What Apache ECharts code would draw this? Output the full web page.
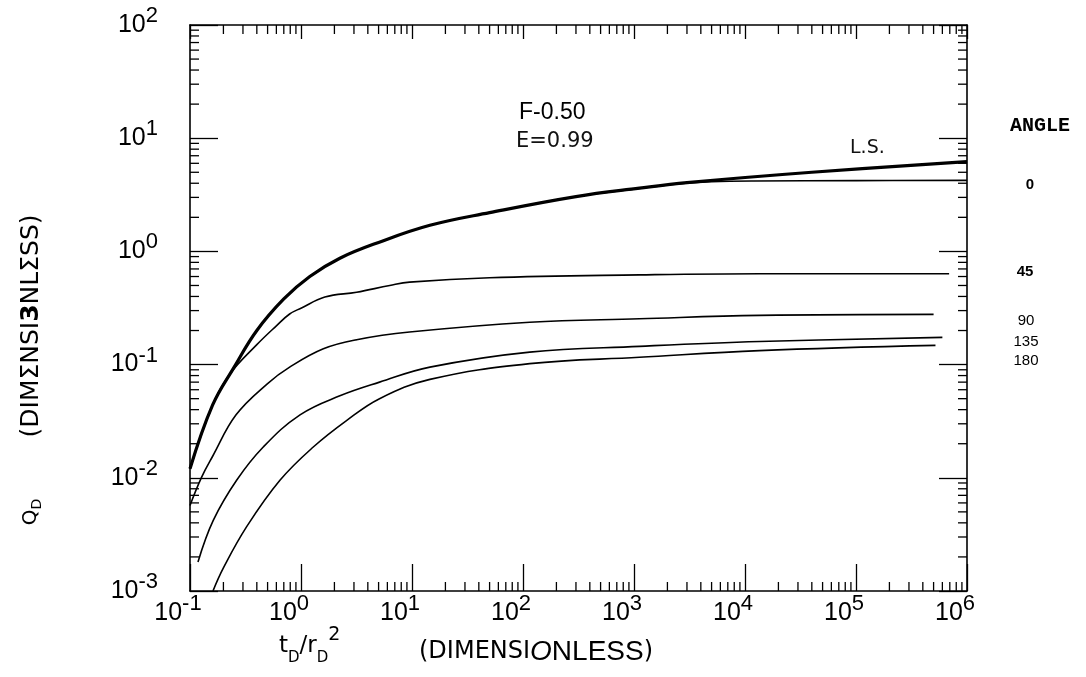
<!DOCTYPE html>
<html>
<head>
<meta charset="utf-8">
<script src="https://cdn.jsdelivr.net/npm/echarts@6/dist/echarts.min.js"></script>
<style>
html,body{margin:0;padding:0;background:#fff;}
#chart{width:1086px;height:677px;}
</style>
</head>
<body>
<div id="chart"></div>
<script>
// ---- data (tD/rD^2 , QD) ----
const lsT   = [0.1, 0.16, 0.25, 0.4, 0.7, 1.2, 2.24, 5, 14.5, 50, 300, 1120, 3000, 40000, 1000000];
const lsQ   = [0.012, 0.044, 0.095, 0.2, 0.38, 0.6, 0.87, 1.2, 1.7, 2.2, 3.05, 3.62, 4.05, 5.0, 6.2];

const a0T   = [0.1, 0.16, 0.25, 0.4, 0.7, 1.2, 2.24, 5, 14.5, 50, 300, 1120, 2500, 5000, 12000, 100000, 1000000];
const a0Q   = [0.012, 0.044, 0.095, 0.2, 0.38, 0.6, 0.87, 1.2, 1.7, 2.2, 3.05, 3.6, 3.95, 4.12, 4.19, 4.22, 4.24];

const a45T  = [0.1, 0.16, 0.23, 0.4, 0.6, 0.79, 1.0, 1.64, 3.17, 6.3, 9.5, 50, 1120, 13500, 690000];
const a45Q  = [0.012, 0.044, 0.083, 0.15, 0.22, 0.28, 0.315, 0.395, 0.436, 0.50, 0.535, 0.585, 0.62, 0.635, 0.635];

const a90T  = [0.1, 0.127, 0.16, 0.26, 0.5, 0.79, 1.59, 3.17, 9.5, 115, 1120, 13500, 500000];
const a90Q  = [0.0057, 0.0101, 0.0155, 0.036, 0.068, 0.095, 0.138, 0.166, 0.194, 0.237, 0.254, 0.272, 0.278];

const a135T = [0.118, 0.162, 0.263, 0.457, 0.98, 2.24, 5.1, 14.5, 115, 1120, 13500, 600000];
const a135Q = [0.0018, 0.0042, 0.0095, 0.0187, 0.036, 0.053, 0.07, 0.095, 0.129, 0.145, 0.16, 0.174];

const a180T = [0.161, 0.2, 0.324, 0.646, 1.29, 2.57, 5.1, 14.5, 115, 1120, 13500, 520000];
const a180Q = [0.001, 0.0016, 0.0037, 0.0095, 0.0187, 0.032, 0.05, 0.074, 0.102, 0.116, 0.133, 0.148];

// tick labels (exponents of 10)
const xTickExp = ['-1', '0', '1', '2', '3', '4', '5', '6'];
const yTickExp = ['-3', '-2', '-1', '0', '1', '2'];
const minorMult = [2, 3, 4, 5, 6, 7, 8, 9];
const xDecades = [0.1, 1, 10, 100, 1000, 10000, 100000];
const yDecades = [0.001, 0.01, 0.1, 1, 10];

const angleLabels = ['0', '45', '90', '135', '180'];

// ---- build ----
const X_MIN = 0.1, X_MAX = 1e6, Y_MIN = 0.001, Y_MAX = 100;
const xMinor = [], yMinor = [];
xDecades.forEach(d => minorMult.forEach(m => xMinor.push([d * m, 1])));
yDecades.forEach(d => minorMult.forEach(m => yMinor.push([1, d * m])));
const pair = (a, b) => a.map((v, i) => [v, b[i]]);

const labelRich = {
  b: {fontFamily: 'Liberation Sans', fontSize: 25, lineHeight: 40, color: '#000', verticalAlign: 'middle'},
  s: {fontFamily: 'Liberation Sans', fontSize: 22, lineHeight: 22, color: '#000', verticalAlign: 'top'}
};
const expOf = v => Math.round(Math.log10(v));

const chart = echarts.init(document.getElementById('chart'));
const minorLen = 9;
const minorStyle = {stroke: '#000', lineWidth: 1.3};

function lineSeries(name, data, width) {
  return {
    name: name, type: 'line', data: data, showSymbol: false, symbol: 'none',
    smooth: 0.4, clip: true,
    lineStyle: {color: '#000', width: width}, z: 3
  };
}

chart.setOption({
  animation: false,
  backgroundColor: '#fff',
  grid: {left: 190, top: 25, right: 119, bottom: 86},
  xAxis: [{
    type: 'log', logBase: 10, min: X_MIN, max: X_MAX, position: 'bottom',
    axisLine: {show: true, lineStyle: {color: '#000', width: 1.6}},
    axisTick: {show: true, inside: true, length: 27, lineStyle: {color: '#000', width: 1.3}},
    splitLine: {show: false},
    axisLabel: {
      margin: 2, align: 'center', padding: [0, 24, 0, 0],
      formatter: v => '{b|10}{s|' + xTickExp[expOf(v) + 1] + '}',
      rich: labelRich
    }
  }, {
    type: 'log', logBase: 10, min: X_MIN, max: X_MAX, position: 'top',
    axisLine: {show: true, lineStyle: {color: '#000', width: 1.6}},
    axisTick: {show: true, inside: true, length: 14, lineStyle: {color: '#000', width: 1.3}},
    splitLine: {show: false}, axisLabel: {show: false}
  }],
  yAxis: [{
    type: 'log', logBase: 10, min: Y_MIN, max: Y_MAX, position: 'left',
    axisLine: {show: true, lineStyle: {color: '#000', width: 1.6}},
    axisTick: {show: true, inside: true, length: 28, lineStyle: {color: '#000', width: 1.3}},
    splitLine: {show: false},
    axisLabel: {
      margin: 32, align: 'right',
      formatter: v => '{b|10}{s|' + yTickExp[expOf(v) + 3] + '}',
      rich: labelRich
    }
  }, {
    type: 'log', logBase: 10, min: Y_MIN, max: Y_MAX, position: 'right',
    axisLine: {show: true, lineStyle: {color: '#000', width: 1.6}},
    axisTick: {show: true, inside: true, length: 28, lineStyle: {color: '#000', width: 1.3}},
    splitLine: {show: false}, axisLabel: {show: false}
  }],
  graphic: [
    {type: 'text', left: 519, top: 101, style: {text: 'F-0.50', font: '23px "Liberation Sans"', fill: '#000'}},
    {type: 'text', left: 516, top: 131, style: {text: 'E=0.99', font: '21px "DejaVu Sans"', fill: '#111'}},
    {type: 'text', left: 850, top: 139, style: {text: 'L.S.', font: '19px "DejaVu Sans"', fill: '#111'}},
    {type: 'text', left: 1010, top: 116, style: {text: 'ANGLE', font: 'bold 20px "Liberation Mono"', fill: '#000'}},
    {type: 'text', x: 1030, y: 185, style: {text: angleLabels[0], font: 'bold 15px "Liberation Sans"', fill: '#000', align: 'center', verticalAlign: 'middle'}},
    {type: 'text', x: 1025, y: 272, style: {text: angleLabels[1], font: 'bold 15px "Liberation Sans"', fill: '#000', align: 'center', verticalAlign: 'middle'}},
    {type: 'text', x: 1026, y: 321, style: {text: angleLabels[2], font: '15px "Liberation Sans"', fill: '#000', align: 'center', verticalAlign: 'middle'}},
    {type: 'text', x: 1026, y: 342, style: {text: angleLabels[3], font: '15px "Liberation Sans"', fill: '#000', align: 'center', verticalAlign: 'middle'}},
    {type: 'text', x: 1026, y: 361, style: {text: angleLabels[4], font: '15px "Liberation Sans"', fill: '#000', align: 'center', verticalAlign: 'middle'}},
    // x axis name
    {type: 'text', left: 279, top: 626, style: {
      text: '{t|t}{d|D}{t|/r}{d|D}{p|2}',
      rich: {
        t: {fontFamily: 'DejaVu Sans', fontSize: 23, color: '#000', lineHeight: 40, verticalAlign: 'middle'},
        d: {fontFamily: 'DejaVu Sans', fontSize: 15, color: '#000', lineHeight: 15, verticalAlign: 'bottom'},
        p: {fontFamily: 'DejaVu Sans', fontSize: 19, color: '#000', lineHeight: 19, verticalAlign: 'top'}
      }}},
    {type: 'text', left: 419, top: 638, style: {
      text: '{a|(DIMENSI}{o|O}{n|NLESS}{a|)}',
      rich: {
        a: {fontFamily: 'DejaVu Sans', fontSize: 24, color: '#000', lineHeight: 30, verticalAlign: 'middle'},
        o: {fontFamily: 'Liberation Sans', fontStyle: 'italic', fontSize: 28, color: '#000', lineHeight: 30, verticalAlign: 'middle'},
        n: {fontFamily: 'Liberation Sans', fontSize: 28, color: '#000', lineHeight: 30, verticalAlign: 'middle'}
      }}},
    // y axis name (rotated)
    {type: 'text', x: 31, y: 512, rotation: Math.PI / 2, style: {
      text: '{q|Q}{d|D}', align: 'center', verticalAlign: 'middle',
      rich: {
        q: {fontFamily: 'DejaVu Sans', fontSize: 20, color: '#000', lineHeight: 26, verticalAlign: 'middle'},
        d: {fontFamily: 'DejaVu Sans', fontSize: 14, color: '#000', lineHeight: 14, verticalAlign: 'bottom'}
      }}},
    {type: 'text', x: 31, y: 326, rotation: Math.PI / 2, style: {
      text: '{a|(DIMΣNSI}{b|3}{a|NLΣSS)}', align: 'center', verticalAlign: 'middle',
      rich: {
        a: {fontFamily: 'DejaVu Sans', fontSize: 25, color: '#000', lineHeight: 28, verticalAlign: 'middle'},
        b: {fontFamily: 'DejaVu Sans', fontWeight: 'bold', fontSize: 25, color: '#000', lineHeight: 28, verticalAlign: 'middle'}
      }}}
  ],
  series: [
    lineSeries('0', pair(a0T, a0Q), 1.6),
    lineSeries('L.S.', pair(lsT, lsQ), 3.2),
    lineSeries('45', pair(a45T, a45Q), 1.6),
    lineSeries('90', pair(a90T, a90Q), 1.6),
    lineSeries('135', pair(a135T, a135Q), 1.6),
    lineSeries('180', pair(a180T, a180Q), 1.6),
    {
      type: 'custom', name: 'xminor', data: xMinor, clip: false, silent: true, z: 4,
      renderItem: (params, api) => {
        const v = api.value(0);
        const b = api.coord([v, Y_MIN]);
        const t = api.coord([v, Y_MAX]);
        return {type: 'group', children: [
          {type: 'line', shape: {x1: b[0], y1: b[1], x2: b[0], y2: b[1] - minorLen}, style: minorStyle},
          {type: 'line', shape: {x1: t[0], y1: t[1], x2: t[0], y2: t[1] + minorLen}, style: minorStyle}
        ]};
      }
    },
    {
      type: 'custom', name: 'yminor', data: yMinor, clip: false, silent: true, z: 4,
      renderItem: (params, api) => {
        const v = api.value(1);
        const l = api.coord([X_MIN, v]);
        const r = api.coord([X_MAX, v]);
        return {type: 'group', children: [
          {type: 'line', shape: {x1: l[0], y1: l[1], x2: l[0] + minorLen, y2: l[1]}, style: minorStyle},
          {type: 'line', shape: {x1: r[0], y1: r[1], x2: r[0] - minorLen, y2: r[1]}, style: minorStyle}
        ]};
      }
    }
  ]
});
</script>
</body>
</html>
